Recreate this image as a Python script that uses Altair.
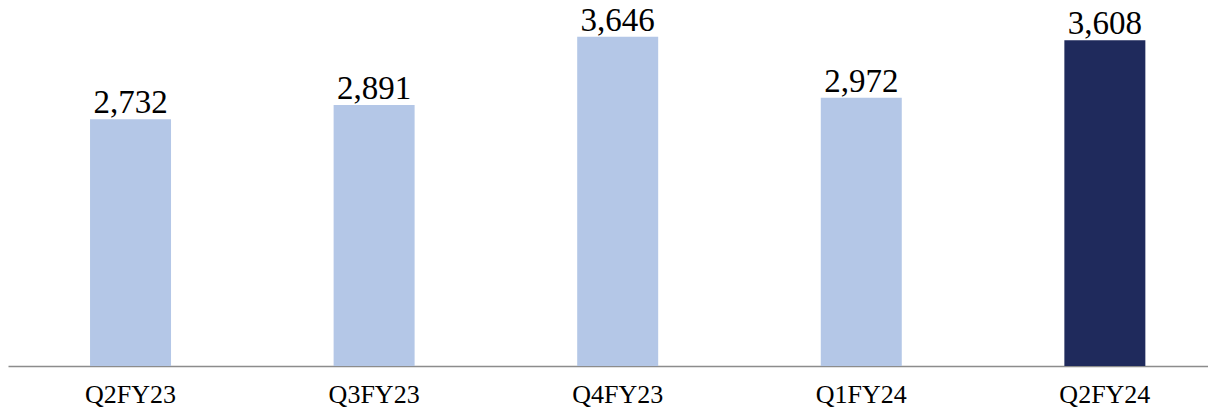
import altair as alt
import pandas as pd

quarters = ["Q2FY23", "Q3FY23", "Q4FY23", "Q1FY24", "Q2FY24"]
values = [2732, 2891, 3646, 2972, 3608]
highlight = ["no", "no", "no", "no", "yes"]

df = pd.DataFrame({"quarter": quarters, "value": values, "hl": highlight})

FONT = "Liberation Serif"

x = alt.X(
    "quarter:N",
    sort=quarters,
    title=None,
    scale=alt.Scale(paddingInner=0.6675, paddingOuter=0.297, align=0.567),
    axis=alt.Axis(
        labelAngle=0,
        labelFont=FONT,
        labelFontSize=26,
        labelColor="#000000",
        labelPadding=15,
        ticks=False,
        tickSize=0,
        domainColor="#8c8c8c",
        domainWidth=1.5,
        grid=False,
    ),
)
y = alt.Y("value:Q", scale=alt.Scale(domain=[0, 3965], nice=False), axis=None)

bars = alt.Chart(df).mark_bar().encode(
    x=x,
    y=y,
    color=alt.Color(
        "hl:N",
        scale=alt.Scale(domain=["no", "yes"], range=["#B4C7E7", "#1F2A5C"]),
        legend=None,
    ),
)

labels = alt.Chart(df).mark_text(
    font=FONT, fontSize=33, baseline="alphabetic", dy=-6, color="#000000"
).encode(
    x=alt.X("quarter:N", sort=quarters),
    y=y,
    text=alt.Text("value:Q", format=",.0f"),
)

chart = (
    alt.layer(bars, labels)
    .properties(
        width=1200,
        height=358,
        autosize=alt.AutoSizeParams(type="none"),
        padding={"left": 0, "top": 0, "right": 0, "bottom": 43},
        view=alt.ViewBackground(stroke="transparent", strokeWidth=0),
    )
    .configure_view(stroke="transparent", strokeWidth=0)
    .configure(background="white")
)

chart.save("out.html", embed_options={"renderer": "svg", "actions": False})
